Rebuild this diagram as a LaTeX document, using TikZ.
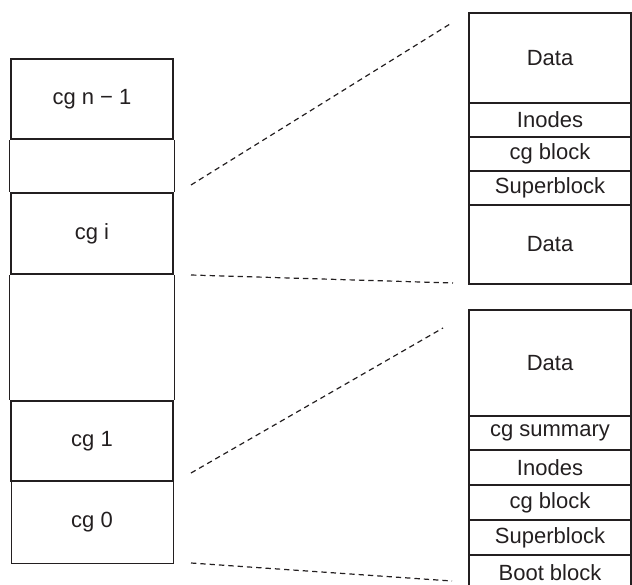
\documentclass[tikz,border=0pt]{standalone}
\usepackage{fontspec}
\setmainfont{Liberation Sans}
\definecolor{ink}{HTML}{231F20}
\begin{document}
\begin{tikzpicture}[x=0.75pt,y=-0.75pt,
  font=\fontsize{16.5}{19}\selectfont, text=ink,
  thickcg/.style={draw=ink, line width=2pt, inner sep=0pt, minimum width=121.5pt},
  thincg/.style={draw=ink, line width=0.75pt, inner sep=0pt, minimum width=121.5pt},
  rowbox/.style={draw=ink, line width=1.6pt, inner sep=0pt, minimum width=121.5pt},
  thinline/.style={draw=ink, line width=0.75pt},
  zoomline/.style={draw=ink, line width=0.9pt, dash pattern=on 4pt off 3pt}]
\useasboundingbox (0,0) rectangle (632,585);

% left column
\node[thincg, minimum height=61.5pt] (cg0) at (92,522) {cg 0};
\node[thickcg, minimum height=60pt] (cgn1) at (92,99) {cg n − 1};
\node[thickcg, minimum height=60.75pt] (cgi) at (92,233.5) {cg i};
\node[thickcg, minimum height=60pt] (cg1) at (92,441) {cg 1};
\draw[thinline] (cgn1.south west) -- (cgi.north west);
\draw[thinline] (cgn1.south east) -- (cgi.north east);
\draw[thinline] (cgi.south west) -- (cg1.north west);
\draw[thinline] (cgi.south east) -- (cg1.north east);

% right top block
\node[rowbox, minimum height=67.5pt] (rtdata) at (550,58) {Data};
\node[rowbox, minimum height=25.5pt] (rtinodes) at (550,120) {Inodes};
\node[rowbox, minimum height=25.5pt] (rtcg) at (550,154) {cg block};
\node[rowbox, minimum height=25.5pt] (rtsuper) at (550,188) {Superblock};
\node[rowbox, minimum height=59.25pt] (rtdatab) at (550,244.5) {Data};

% right bottom block
\node[rowbox, minimum height=79.5pt] (rbdata) at (550,363) {Data};
\node[rowbox, minimum height=25.5pt] (rbsum) at (550,433) {cg summary};
\node[rowbox, minimum height=26.25pt] (rbinodes) at (550,467.5) {Inodes};
\node[rowbox, minimum height=26.25pt] (rbcg) at (550,502.5) {cg block};
\node[rowbox, minimum height=26.25pt] (rbsuper) at (550,537.5) {Superblock};
\node[rowbox, minimum height=26.25pt] (rbboot) at (550,572.5) {Boot block};

% zoom lines
\coordinate (a1) at (191,185);
\coordinate (a2) at (450,24);
\coordinate (b1) at (191,275);
\coordinate (b2) at (453,283);
\coordinate (c1) at (191,473);
\coordinate (c2) at (443,328);
\coordinate (d1) at (191,563);
\coordinate (d2) at (452,581);
\draw[zoomline] (a1) -- (a2);
\draw[zoomline] (b1) -- (b2);
\draw[zoomline] (c1) -- (c2);
\draw[zoomline] (d1) -- (d2);
\end{tikzpicture}
\end{document}
